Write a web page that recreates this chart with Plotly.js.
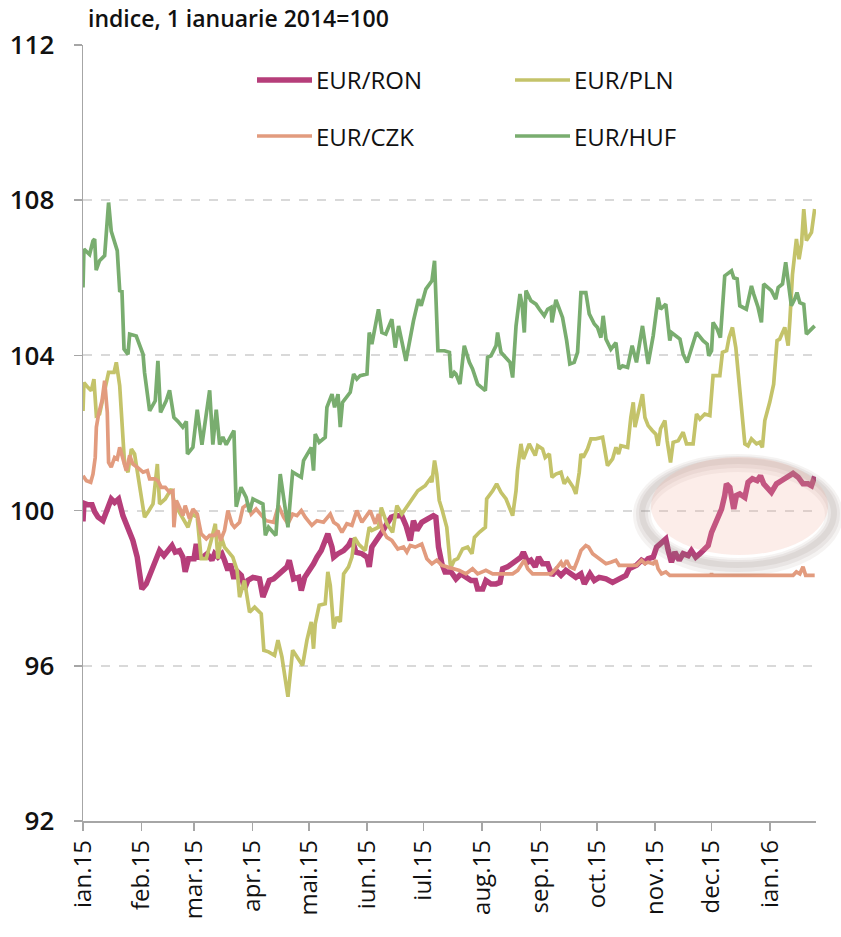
<!DOCTYPE html>
<html><head><meta charset="utf-8">
<script src="https://cdn.plot.ly/plotly-3.0.1.min.js"></script>
<style>html,body{margin:0;padding:0;background:#fff}</style>
</head><body><div id="chart" style="width:841px;height:937px"></div>
<script>
// ---- data (days since 1 Jan 2015, index 1 ian 2014 = 100) ----
const seriesNames = ['EUR/RON', 'EUR/PLN', 'EUR/CZK', 'EUR/HUF'];
const chartTitle = 'indice, 1 ianuarie 2014=100';

const ronDays = [0,0.5,2.7,4.8,6.2,8,10.6,12.9,15,16.8,18.9,21.2,23.9,26.5,28.8,30.1,31.3,33.6,36.6,38.9,40.7,43,45.5,47.3,49,51.3,53.1,54.3,56.1,59,60.2,61.4,63.7,66,68.5,69.9,71.7,73.8,75.2,77,78.4,80.2,81.4,84.1,85.8,87.6,90.3,93.8,95.6,97.3,
 99,101.3,103.9,105.7,108.4,109.6,111.9,114.6,116,117.8,119.9,122.5,124.3,126.6,128.7,130.1,132.3,133.2,135.5,138.5,141.1,142.9,145,148.2,150.9,152.1,153.5,156.2,158.8,161.5,163.8,165.9,169.4,171.6,173.9,175.6,177.4,180,182.7,186.2,187.5,188.9,190.7,192.4,
 195.6,198.2,200.9,203.5,206.2,208.5,209.7,212.4,214.1,216.8,219.5,221.6,223,225.6,228.3,230.4,232.7,234,236.3,238,240.3,242.1,244.2,246.9,249.2,251.3,254,256.6,259.3,261.9,264.6,266.4,269.4,271.7,274.3,277.9,281.4,284.9,288.5,290.2,
 292.4,294.1,296.8,298.6,300.3,303,304.8,307.4,309.7,311,312.7,314.5,316.8,318.9,321.6,323.3,325.6,327.8,330.4,332.2,334,335.7,337.5,339.3,341,341.9,343.7,345.8,347.2,349,351.7,353.4,355.7,358.2,360,361.7,365.8,368.5,371.1,374.7,377.3,380,382.6,385.3,387.1,388.8];
const ronValues = [99.72,100.19,100.15,100.15,99.97,99.83,99.74,100.0,100.3,100.21,100.3,99.87,99.57,99.23,98.8,98.37,97.98,98.11,98.46,98.72,98.97,98.84,98.97,99.1,98.93,98.97,98.8,98.42,98.76,98.76,99.14,98.8,98.8,98.89,98.72,98.89,98.8,98.89,98.72,98.46,98.63,98.24,98.46,98.33,97.98,98.2,98.28,98.24,97.77,97.98,
 98.2,98.24,98.37,98.46,98.55,98.72,98.24,98.28,97.94,98.28,98.42,98.63,98.8,98.97,99.23,99.4,99.06,98.8,98.89,98.97,99.1,99.27,98.93,98.89,98.8,98.55,99.06,99.23,99.44,99.66,99.83,99.87,99.87,99.62,99.23,99.74,99.49,99.7,99.79,99.87,99.83,99.06,98.63,98.42,
 98.42,98.24,98.37,98.28,98.2,98.2,97.98,97.98,98.2,98.11,98.11,98.15,98.5,98.55,98.63,98.72,98.8,98.93,98.67,98.72,98.55,98.8,98.63,98.63,98.33,98.46,98.33,98.46,98.37,98.28,98.37,98.11,98.37,98.2,98.28,98.24,98.15,98.24,98.33,98.5,
 98.55,98.59,98.72,98.67,98.76,98.8,99.06,99.19,99.27,98.97,98.67,98.93,98.72,98.89,98.84,98.97,98.8,98.89,99.01,99.1,99.44,99.62,99.79,100.04,100.39,100.69,100.6,100.04,100.39,100.43,100.34,100.73,100.82,100.77,100.9,100.69,100.47,100.69,100.77,100.86,100.96,100.86,100.69,100.69,100.64,100.88];

const plnDays = [0,0.5,2.7,4.4,5.8,7.1,8.8,11.5,13.6,16.5,17.7,19.5,21.2,22.1,23.9,25.7,27.4,29.6,32.7,34.5,37.2,39.5,40.7,43.7,46.9,48.7,52.2,55.8,57.9,60.7,62.8,65.5,68.1,70.3,71.7,73.5,75.2,79.6,81.9,83.2,85.8,88.5,91.2,94.7,96.1,
 98.6,101.8,103.6,105.7,108.9,111.4,114.6,116.7,119,121.3,122.5,123.4,125.5,128.7,130.1,131.4,133.2,134.9,136.7,138.5,141.1,142.9,144.3,146.4,150,152.1,153.5,157,158.5,161.5,164.5,166.8,169.4,173.9,177.9,181.8,184.5,185.4,186.8,188,189.3,190.7,193.3,195.1,
 195.6,197.3,199.1,201.7,204.4,206.7,208,210.6,213.8,214.5,215.9,217.7,219.8,222.1,224.8,228.3,230.1,230.9,232.7,234,237.1,240.3,241.6,244.2,245.6,247.8,249.2,251.3,254,255.7,257.5,260.5,261.9,263.7,264.6,265.8,268.1,269.9,272.5,276.1,278.7,281.4,283.2,284.6,285.8,289.4,291.1,
 292.4,293.3,295,297.3,298.6,300.3,302.6,304.4,305.6,306.9,309.2,310.4,312.2,313.6,316.3,318.9,320.7,324.2,326,327.8,330.4,333.1,334.8,338.4,339.8,342,343.3,345.1,346.9,348.1,349.9,351.7,353.4,355.2,357.9,359.6,361,362.3,364.9,367,368.8,370.2,372.9,374.7,375.6,377,379.1,380.5,381.8,383,384.4,387.1,388.8];
const plnValues = [102.57,103.3,103.17,103.09,103.39,102.45,102.49,103.09,103.56,103.56,103.82,103.22,101.63,101.2,100.99,101.59,101.46,100.82,99.83,99.96,100.17,101.2,100.17,100.3,100.56,100.17,99.87,99.57,99.91,99.83,98.76,98.76,99.23,99.66,98.76,99.31,99.06,98.8,98.46,97.77,98.2,97.38,97.51,97.34,96.4,
 96.36,96.27,96.66,96.23,95.2,96.4,96.14,96.01,96.66,97.13,96.44,97.08,97.56,97.6,98.42,98.07,96.96,97.26,97.13,98.37,98.55,98.8,99.31,99.14,98.97,99.57,99.49,99.57,100.08,99.66,99.44,100.13,99.91,100.21,100.51,100.64,100.82,100.73,101.29,100.94,100.26,100.04,99.57,98.63,
 98.55,98.72,98.76,99.01,99.06,98.89,99.31,99.44,99.57,100.3,100.39,100.51,100.69,100.47,100.3,99.87,100.51,101.03,101.72,101.33,101.72,101.42,101.67,101.59,101.37,101.46,100.86,100.94,100.99,100.69,100.82,100.6,100.43,100.99,101.46,101.37,101.59,101.85,101.85,101.89,101.16,101.33,101.63,101.46,101.67,101.63,102.4,
 102.79,102.15,102.49,103.0,102.4,102.19,102.06,101.97,101.67,102.11,102.32,101.8,101.24,101.76,101.8,102.02,101.72,101.72,102.49,102.36,102.49,102.45,103.48,103.48,104.08,104.12,104.46,104.72,104.2,103.52,102.66,101.72,101.67,101.85,101.72,101.76,101.63,102.32,102.79,103.26,104.38,104.42,104.72,104.25,104.89,106.09,107.0,106.48,106.87,107.77,106.96,107.17,107.77];

const czkDays = [0,1.8,4.1,5.3,6.5,7.1,8.3,10.1,11.5,12.9,13.6,15,16.8,18.2,19.5,21.2,23,24.8,26.5,28.8,31.9,34.2,35.4,38.1,39.8,41.6,43.7,46,47.8,48.3,49.6,51.3,53.1,54.3,56.6,58.4,60.7,62.8,65.5,67.3,70,71.7,73.1,75.2,77,79.1,80.5,83.2,85,87.6,89.4,92,94.7,97.3,
 101.3,103.9,106.6,108.9,111.4,113.7,116,118.1,121.6,124.3,127.8,131.4,133.2,135.5,137.6,140.2,142.9,145.5,148.2,150.3,152.6,155.3,157,159.2,161.5,164.1,167.3,170.3,172.1,173.9,176.5,180,182.7,185.4,188,190.7,193.3,
 196.4,200,203.5,207,209.7,214.1,217.7,223,228.3,231,232.7,234.5,236.3,238.9,244.2,248.7,251.3,254,255.2,257,258.7,261,262.8,264.6,267.2,268.7,270.8,274.3,277.9,280.5,283.2,284.9,288.5,291.1,
 294.1,296.8,298.6,300.3,303,304.4,305.6,307.4,309.7,311.8,333.5,334,334.5,377.3,379.1,380.9,382.6,384,388.8];
const czkValues = [100.9,100.77,100.73,100.94,101.37,102.15,102.49,102.83,103.35,102.53,101.24,101.12,101.37,101.33,101.63,101.37,101.03,101.42,101.2,101.12,100.99,101.03,100.82,100.82,100.77,100.6,100.6,100.47,100.51,99.57,100.26,100.08,99.87,100.13,99.79,100.04,99.91,99.4,99.27,99.36,99.36,99.49,99.23,99.49,100.0,99.66,99.57,99.7,100.08,100.17,99.91,100.04,99.87,99.74,
 99.7,100.13,99.83,99.66,99.91,99.87,100.0,99.83,99.62,99.74,99.7,99.91,99.7,99.62,99.44,99.66,99.62,100.0,99.7,99.83,100.0,99.66,99.91,99.49,99.31,99.23,99.01,99.06,98.93,99.1,99.06,99.14,98.76,98.63,98.72,98.59,98.55,
 98.5,98.46,98.37,98.5,98.37,98.46,98.37,98.37,98.37,98.46,98.59,98.72,98.5,98.37,98.37,98.37,98.5,98.67,98.55,98.72,98.55,98.5,98.72,98.97,99.1,99.06,98.89,98.76,98.63,98.67,98.72,98.59,98.59,98.59,
 98.59,98.72,98.63,98.67,98.63,98.72,98.5,98.37,98.42,98.33,98.33,98.38,98.33,98.33,98.42,98.37,98.55,98.33,98.33];

const hufDays = [0,0.5,3.5,5.3,6.2,7,8.8,11.5,13.6,15,18.2,19.5,20.7,21.8,23.9,24.8,28.3,31.9,32.7,35.4,38.4,39.8,41.2,44.2,46,48.3,50.4,53,54.9,55.5,58.4,60.7,63.2,65.5,67.3,69,70.8,72.6,74.3,76.1,80.2,81.4,84,86.7,88.5,90.3,95.6,96.9,
 98.6,102.5,104.8,106.6,108.9,111.4,116,117.2,121.3,122.5,123.4,125.5,128.7,129.6,132.3,133.7,135.5,136.7,137.9,142,143.8,145.5,147.3,150.9,152.1,153.5,157,158.8,160.9,164.1,165.9,167.7,171.6,175.6,178.3,179.7,182.2,185.4,186.8,188.6,192.1,
 194.7,195.6,197.3,198.2,200.3,202.6,205.3,207,209.7,211.5,213.8,215,216.8,219.5,220.3,222.1,224.8,226.9,228.3,230.1,232.2,233.3,234.5,235.4,238,240.7,242.5,245.1,246.9,248.7,249.2,251.3,254.8,257,258.7,261,262.8,264.6,267.2,269,271.7,273.4,275.2,276.4,277.9,280.5,283.2,284.9,286.7,289.4,
 291.8,294.1,297.3,298.6,300.3,303,305.6,306.9,309.7,311.8,312.7,317.2,318.9,321,324.2,326,329.5,331.7,332.5,334,334.8,337,338.7,339.8,341,344.6,345.8,347.6,349,352.5,355.2,356.4,358.7,360.5,361.7,365.8,368.1,369.4,371.7,373.4,374.7,376.4,378.2,379.4,380.9,383,384.4,387.1,388.8];
const hufValues = [105.75,106.74,106.6,106.95,107.0,106.2,106.44,106.57,107.94,107.2,106.7,105.67,105.65,104.16,104.03,104.55,104.5,104.03,103.56,102.57,102.83,103.86,102.53,102.83,103.1,102.4,102.3,102.15,102.3,101.46,101.63,102.6,101.7,102.5,103.1,101.7,102.6,101.7,101.9,101.7,102.06,100.1,100.6,100.34,99.96,100.3,100.17,99.36,
 99.57,99.36,100.94,100.34,99.57,100.99,100.86,101.29,101.63,101.03,101.97,101.76,101.89,102.66,103.0,102.66,103.0,102.15,102.79,103.05,103.52,103.39,103.48,103.52,104.59,104.29,105.19,104.59,104.55,104.93,104.2,104.76,103.86,104.89,105.45,105.28,105.71,105.92,106.44,104.12,104.12,
 104.08,103.43,103.56,103.52,103.26,104.25,103.82,103.65,103.26,103.18,103.09,103.95,103.99,104.25,104.59,104.08,103.95,103.82,103.43,104.76,105.58,105.32,104.59,105.67,105.41,105.32,105.19,105.02,105.19,105.24,104.85,105.43,104.98,104.38,103.78,103.82,104.08,105.62,105.62,105.07,104.81,104.72,104.46,105.02,104.42,104.16,104.33,103.65,103.73,103.69,
 104.25,103.82,104.76,104.29,103.78,104.51,105.49,105.19,105.32,104.38,104.59,104.42,104.03,103.82,104.29,104.59,104.38,104.29,103.99,104.12,104.85,104.68,104.46,105.36,106.05,106.18,106.0,105.97,105.28,105.19,105.79,105.58,105.24,104.85,105.84,105.67,105.45,105.75,105.84,106.4,105.84,105.28,105.45,105.62,105.36,105.32,104.55,104.68,104.76];

const monthTickDays = [0,31,59,90,120,151,181,212,243,273,304,334,365];
const monthTickLabels = ['ian.15','feb.15','mar.15','apr.15','mai.15','iun.15','iul.15','aug.15','sep.15','oct.15','nov.15','dec.15','ian.16'];
const yTickValues = [92,96,100,104,108,112];

// ---- styling ----
const colors = {ron:'#b63e7a', pln:'#c4c36a', czk:'#e29b7e', huf:'#79ad6f'};
const FONT = 'Open Sans, Liberation Sans, sans-serif';

function dayToDate(d) {
  const ms = Date.UTC(2015, 0, 1) + d * 86400000;
  return new Date(ms).toISOString().replace('T', ' ').slice(0, 19);
}

// plot area in pixels
const W = 841, H = 937, PL = 83, PR = 816, PT = 45, PB = 821;
const px2x = p => (p - PL) / (PR - PL);
const py2y = p => (PB - p) / (PB - PT);

function mk(days, vals, name, color, width) {
  return {type:'scatter', mode:'lines', name:name, x:days.map(dayToDate), y:vals,
    line:{color:color, width:width, shape:'linear'}, showlegend:false, hoverinfo:'x+y'};
}
const traces = [
  mk(ronDays, ronValues, seriesNames[0], colors.ron, 5.5),
  mk(plnDays, plnValues, seriesNames[1], colors.pln, 3.7),
  mk(czkDays, czkValues, seriesNames[2], colors.czk, 3.7),
  mk(hufDays, hufValues, seriesNames[3], colors.huf, 3.7)
];

// manual legend (two columns, two rows)
const legendItems = [
  {name:seriesNames[0], color:colors.ron, w:5.5, x0:257, x1:312, y:80},
  {name:seriesNames[1], color:colors.pln, w:3.7, x0:515, x1:570, y:80},
  {name:seriesNames[2], color:colors.czk, w:3.7, x0:257, x1:312, y:136},
  {name:seriesNames[3], color:colors.huf, w:3.7, x0:515, x1:570, y:136}
];
const shapes = [];
const annotations = [];
legendItems.forEach(it => {
  shapes.push({type:'line', xref:'paper', yref:'paper', x0:px2x(it.x0), x1:px2x(it.x1), y0:py2y(it.y), y1:py2y(it.y),
    line:{color:it.color, width:it.w}});
  annotations.push({xref:'paper', yref:'paper', x:px2x(it.x1 + 2), y:py2y(it.y), xanchor:'left', yanchor:'middle',
    text:it.name, showarrow:false, font:{family:FONT, size:24, color:'#111', weight:500}});
});

// highlight ellipse: soft grey shadow ring (heavier at the bottom) + light pink body
const ringLayers = [
  {w:18, c:'rgba(140,120,115,0.09)', dy:3},
  {w:12, c:'rgba(140,120,115,0.11)', dy:2},
  {w:6,  c:'rgba(140,120,115,0.12)', dy:1}
];
ringLayers.forEach(r => shapes.push({type:'circle', xref:'paper', yref:'paper', layer:'above',
  x0:px2x(642), x1:px2x(834), y0:py2y(564 + r.dy), y1:py2y(460 + r.dy),
  fillcolor:'rgba(0,0,0,0)', line:{color:r.c, width:r.w}}));
shapes.push({type:'circle', xref:'paper', yref:'paper', layer:'above',
  x0:px2x(651), x1:px2x(828), y0:py2y(555), y1:py2y(457),
  fillcolor:'rgba(242,175,155,0.22)', line:{width:0}});

const layout = {
  width:W, height:H,
  margin:{l:PL, r:W-PR, t:PT, b:H-PB, pad:0},
  paper_bgcolor:'#fff', plot_bgcolor:'#fff',
  title:{text:chartTitle, xref:'container', yref:'container', x:88/W, xanchor:'left', y:1-19/H, yanchor:'middle',
    font:{family:FONT, size:23, color:'#111', weight:600}},
  xaxis:{type:'date', range:[dayToDate(0), dayToDate(389.5)],
    tickvals:monthTickDays.map(dayToDate), ticktext:monthTickLabels, tickangle:-90,
    ticks:'outside', ticklen:8, tickwidth:1.5, tickcolor:'#a6a6a6',
    showline:true, linecolor:'#a6a6a6', linewidth:1.5, showgrid:false, zeroline:false,
    tickfont:{family:FONT, size:24, color:'#111'}},
  yaxis:{range:[92,112], tickvals:yTickValues, ticktext:yTickValues.map(String),
    ticks:'outside', ticklen:8, tickwidth:1.5, tickcolor:'#a6a6a6',
    showline:true, linecolor:'#a6a6a6', linewidth:1.5,
    showgrid:true, gridcolor:'#d9d9d9', gridwidth:2, griddash:'dash', zeroline:false,
    ticklabelstandoff:14,
    tickfont:{family:FONT, size:26, color:'#111', weight:600}},
  shapes:shapes, annotations:annotations, showlegend:false
};

Plotly.newPlot('chart', traces, layout, {displayModeBar:false, staticPlot:true});
</script></body></html>
